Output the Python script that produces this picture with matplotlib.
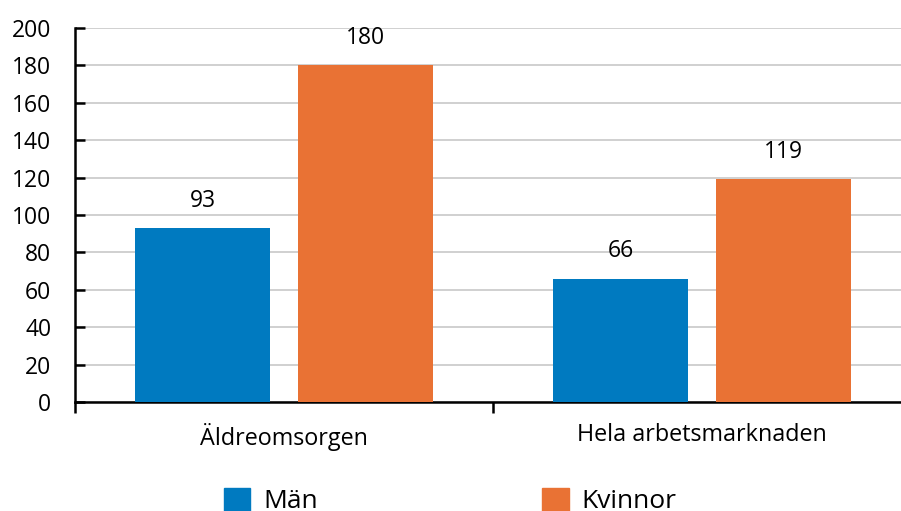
import matplotlib.pyplot as plt
from matplotlib.patches import Patch
import numpy as np

plt.rcParams['font.family'] = ['Open Sans', 'DejaVu Sans']

# data
kategorier = ['Äldreomsorgen', 'Hela arbetsmarknaden']
man = [93, 66]
kvinnor = [180, 119]
y_ticks = [0, 20, 40, 60, 80, 100, 120, 140, 160, 180, 200]

blue = '#007AC0'
orange = '#E97234'

fig = plt.figure(figsize=(9.01, 5.11), dpi=100)
ax = fig.add_axes([75 / 901, 1 - 402 / 511, 1 - 75 / 901, (402 - 28) / 511])

x = np.arange(len(kategorier))
w = 0.323
off = 0.195
b1 = ax.bar(x - off, man, w, color=blue, zorder=3)
b2 = ax.bar(x + off, kvinnor, w, color=orange, zorder=3)

for bars, vals in [(b1, man), (b2, kvinnor)]:
    for b, v in zip(bars, vals):
        ax.annotate(str(v), (b.get_x() + b.get_width() / 2, v), xytext=(0, 11),
                    textcoords='offset points', ha='center', va='bottom', fontsize=16.5)

ax.set_ylim(0, 200)
ax.set_yticks(y_ticks)
ax.yaxis.grid(True, color='#c8c8c8', linewidth=1.2, zorder=0)
ax.tick_params(axis='y', direction='in', length=7, width=1.8, labelsize=16.5, pad=17)

# category labels between boundary ticks
ax.set_xticks([-0.5, 0.5])
ax.set_xticklabels([])
ax.set_xticks(x, minor=True)
ax.set_xticklabels(kategorier, minor=True, fontsize=16.8)
ax.tick_params(axis='x', which='major', direction='out', length=8, width=1.8)
ax.tick_params(axis='x', which='minor', length=0, pad=15)
ax.set_xlim(-0.5, (901 - 75) / 418 - 0.5)

for s in ['top', 'right']:
    ax.spines[s].set_visible(False)
ax.spines['left'].set_linewidth(1.8)
ax.spines['bottom'].set_linewidth(1.8)

handles = [Patch(color=blue, label='Män'), Patch(color=orange, label='Kvinnor')]
fig.legend(handles=handles, loc='center left', bbox_to_anchor=(200 / 901, 1 - 501 / 511),
           ncol=2, frameon=False, fontsize=19, handlelength=1.0, handleheight=1.0,
           handletextpad=0.5, columnspacing=8.5)

fig.savefig('out.png', dpi=100)
